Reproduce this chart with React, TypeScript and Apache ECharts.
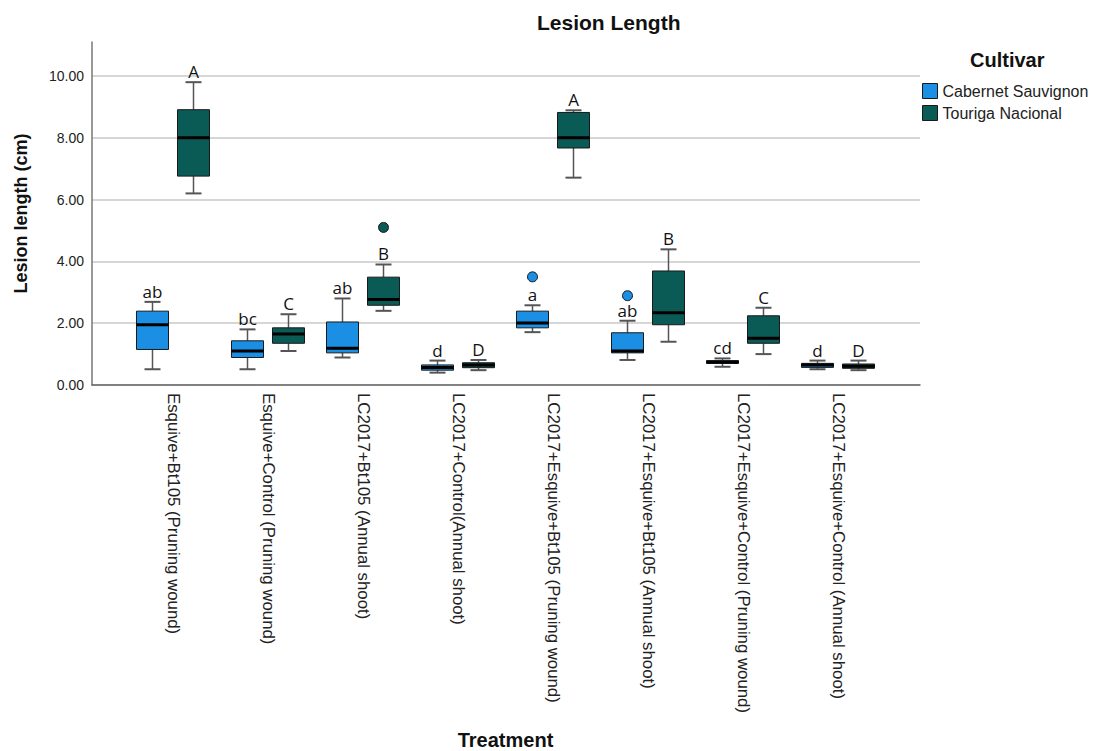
import React, { useEffect, useRef } from "react";
import * as echarts from "echarts";

const categories = [
  "Esquive+Bt105 (Pruning wound)",
  "Esquive+Control (Pruning wound)",
  "LC2017+Bt105 (Annual shoot)",
  "LC2017+Control(Annual shoot)",
  "LC2017+Esquive+Bt105 (Pruning wound)",
  "LC2017+Esquive+Bt105 (Annual shoot)",
  "LC2017+Esquive+Control (Pruning wound)",
  "LC2017+Esquive+Control (Annual shoot)",
];

const cultivars = ["Cabernet Sauvignon", "Touriga Nacional"];
const colors = ["#1a8fe3", "#0a5a56"];

// Cabernet Sauvignon: [min, q1, median, q3, max]
const cabMin = [0.51, 0.51, 0.89, 0.4, 1.71, 0.81, 0.59, 0.51];
const cabQ1 = [1.15, 0.89, 1.04, 0.48, 1.85, 1.04, 0.7, 0.57];
const cabMed = [1.95, 1.1, 1.19, 0.57, 2.01, 1.1, 0.74, 0.65];
const cabQ3 = [2.39, 1.43, 2.04, 0.65, 2.39, 1.69, 0.79, 0.7];
const cabMax = [2.69, 1.8, 2.8, 0.79, 2.58, 2.08, 0.86, 0.79];
const cabOutliers = [
  [4, 3.5],
  [5, 2.89],
];
const cabLetters = ["ab", "bc", "ab", "d", "a", "ab", "cd", "d"];

// Touriga Nacional
const touMin = [6.2, 1.1, 2.4, 0.48, 6.71, 1.4, 1.0, 0.48];
const touQ1 = [6.76, 1.35, 2.58, 0.56, 7.67, 1.95, 1.35, 0.54];
const touMed = [8.0, 1.65, 2.77, 0.65, 8.0, 2.34, 1.51, 0.61];
const touQ3 = [8.91, 1.85, 3.49, 0.72, 8.82, 3.69, 2.24, 0.68];
const touMax = [9.8, 2.29, 3.9, 0.81, 8.89, 4.39, 2.5, 0.79];
const touOutliers = [[2, 5.1]];
const touLetters = ["A", "C", "B", "D", "A", "B", "C", "D"];

const yTicks = [0, 2, 4, 6, 8, 10];
const yMax = 11.1;

const OFFSET = 20.5;

function buildBox(mins: number[], q1: number[], med: number[], q3: number[], maxs: number[]) {
  return categories.map((_, i) => [i, mins[i], q1[i], med[i], q3[i], maxs[i]]);
}

function boxRenderer(offset: number, color: string) {
  return (params: any, api: any) => {
    const i = api.value(0);
    const yOf = (k: number) => api.coord([i, api.value(k)])[1];
    const x = api.coord([i, api.value(1)])[0] + offset;
    const yMin = yOf(1);
    const yQ1 = yOf(2);
    const yMed = yOf(3);
    const yQ3 = yOf(4);
    const yMx = yOf(5);
    const hw = 16;
    const cw = 8;
    const wStyle = { stroke: "#555", lineWidth: 1.5 };
    return {
      type: "group",
      children: [
        { type: "line", shape: { x1: x, y1: yMx, x2: x, y2: yQ3 }, style: wStyle },
        { type: "line", shape: { x1: x, y1: yQ1, x2: x, y2: yMin }, style: wStyle },
        { type: "line", shape: { x1: x - cw, y1: yMx, x2: x + cw, y2: yMx }, style: { stroke: "#555", lineWidth: 2 } },
        { type: "line", shape: { x1: x - cw, y1: yMin, x2: x + cw, y2: yMin }, style: { stroke: "#555", lineWidth: 2 } },
        {
          type: "rect",
          shape: { x: x - hw, y: yQ3, width: 2 * hw, height: Math.max(yQ1 - yQ3, 2) },
          style: { fill: color, stroke: "#1a1a1a", lineWidth: 1 },
        },
        { type: "line", shape: { x1: x - hw, y1: yMed, x2: x + hw, y2: yMed }, style: { stroke: "#000", lineWidth: 3 } },
      ],
    };
  };
}

function letterRenderer(offset: number, letters: string[]) {
  return (params: any, api: any) => {
    const i = api.value(0);
    const p = api.coord([i, api.value(1)]);
    return {
      type: "text",
      x: p[0] + offset,
      y: p[1] - 2,
      style: {
        text: letters[params.dataIndex],
        textAlign: "center",
        textVerticalAlign: "bottom",
        font: '17px "Open Sans"',
        fill: "#111",
      },
    };
  };
}

export default function App() {
  const ref = useRef<HTMLDivElement>(null);
  useEffect(() => {
    document.body.style.margin = "0";
    const chart = echarts.init(ref.current!, undefined, { renderer: "svg" });
    const axisFont = "Liberation Sans";
    chart.setOption({
      animation: false,
      backgroundColor: "#ffffff",
      title: [
        {
          text: "Lesion Length",
          left: 537,
          top: 12,
          padding: 0,
          textStyle: { fontSize: 21, fontWeight: "bold", fontFamily: axisFont, color: "#111" },
        },
        {
          text: "Cultivar",
          left: 970,
          top: 50,
          padding: 0,
          textStyle: { fontSize: 20, fontWeight: "bold", fontFamily: axisFont, color: "#111" },
        },
      ],
      legend: {
        orient: "vertical",
        left: 922,
        top: 83,
        padding: 0,
        itemWidth: 15,
        itemHeight: 15,
        itemGap: 6,
        textStyle: { fontSize: 16, fontFamily: axisFont, color: "#222" },
        data: cultivars.map((n, k) => ({
          name: n,
          icon: "rect",
          itemStyle: { color: colors[k], borderColor: "#1a1a1a", borderWidth: 1 },
        })),
      },
      grid: [
        { left: 92, top: 42, width: 828, height: 343 },
        { left: 125.5, top: 42, width: 760, height: 343 },
      ],
      xAxis: [
        {
          gridIndex: 0,
          type: "value",
          min: 0,
          max: 1,
          axisLine: { show: true, lineStyle: { color: "#666", width: 1.5 } },
          axisTick: { show: false },
          axisLabel: { show: false },
          splitLine: { show: false },
        },
        {
          gridIndex: 1,
          type: "category",
          data: categories,
          axisLine: { show: false },
          axisTick: { show: false },
          axisLabel: {
            rotate: -90,
            interval: 0,
            margin: 8,
            fontSize: 16.8,
            fontFamily: axisFont,
            color: "#222",
          },
          name: "Treatment",
          nameLocation: "middle",
          nameGap: 345,
          nameTextStyle: { fontSize: 20, fontWeight: "bold", fontFamily: axisFont, color: "#111" },
        },
      ],
      yAxis: [
        {
          gridIndex: 0,
          type: "value",
          min: yTicks[0],
          max: yMax,
          interval: yTicks[1] - yTicks[0],
          axisLine: { show: true, lineStyle: { color: "#777", width: 1.5 } },
          axisTick: { show: false },
          axisLabel: {
            showMaxLabel: false,
            formatter: (v: number) => (yTicks.includes(v) ? v.toFixed(2) : ""),
            fontSize: 14,
            fontFamily: axisFont,
            color: "#222",
            margin: 8,
          },
          splitLine: { show: true, showMaxLine: false, lineStyle: { color: "#c8c8c8", width: 1.5 } },
          name: "Lesion length (cm)",
          nameLocation: "middle",
          nameGap: 62,
          nameTextStyle: { fontSize: 18, fontWeight: "bold", fontFamily: axisFont, color: "#111" },
        },
        {
          gridIndex: 1,
          type: "value",
          min: yTicks[0],
          max: yMax,
          show: false,
          splitLine: { show: false },
        },
      ],
      series: [
        {
          name: cultivars[0],
          type: "custom",
          xAxisIndex: 1,
          yAxisIndex: 1,
          itemStyle: { color: colors[0] },
          encode: { x: 0, y: [1, 2, 3, 4, 5] },
          data: buildBox(cabMin, cabQ1, cabMed, cabQ3, cabMax),
          renderItem: boxRenderer(-OFFSET, colors[0]),
          z: 3,
        },
        {
          name: cultivars[1],
          type: "custom",
          xAxisIndex: 1,
          yAxisIndex: 1,
          itemStyle: { color: colors[1] },
          encode: { x: 0, y: [1, 2, 3, 4, 5] },
          data: buildBox(touMin, touQ1, touMed, touQ3, touMax),
          renderItem: boxRenderer(OFFSET, colors[1]),
          z: 3,
        },
        {
          name: cultivars[0],
          type: "scatter",
          xAxisIndex: 1,
          yAxisIndex: 1,
          symbolSize: 10,
          symbolOffset: [-OFFSET, 0],
          itemStyle: { color: colors[0], borderColor: "#1a1a1a", borderWidth: 1, opacity: 1 },
          data: cabOutliers,
          z: 4,
        },
        {
          name: cultivars[1],
          type: "scatter",
          xAxisIndex: 1,
          yAxisIndex: 1,
          symbolSize: 10,
          symbolOffset: [OFFSET, 0],
          itemStyle: { color: colors[1], borderColor: "#1a1a1a", borderWidth: 1, opacity: 1 },
          data: touOutliers,
          z: 4,
        },
        {
          name: "labels-cab",
          type: "custom",
          xAxisIndex: 1,
          yAxisIndex: 1,
          silent: true,
          data: categories.map((_, i) => [i, cabMax[i]]),
          renderItem: letterRenderer(-OFFSET, cabLetters),
          z: 5,
        },
        {
          name: "labels-tou",
          type: "custom",
          xAxisIndex: 1,
          yAxisIndex: 1,
          silent: true,
          data: categories.map((_, i) => [i, touMax[i]]),
          renderItem: letterRenderer(OFFSET, touLetters),
          z: 5,
        },
      ],
    });
    return () => chart.dispose();
  }, []);
  return <div ref={ref} style={{ width: 1096, height: 751 }} />;
}
